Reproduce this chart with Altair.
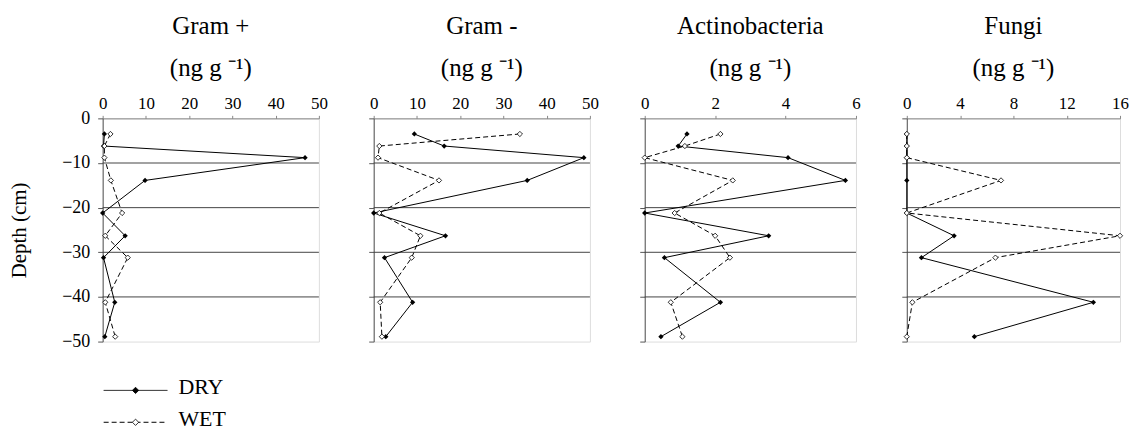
import altair as alt
import pandas as pd

# ---- data ----
depths = [-3.5, -6.2, -8.8, -13.9, -21.2, -26.3, -31.2, -41.2, -48.9]
grid_depths = [-10, -20, -30, -40]
series_names = ["DRY", "WET"]

panel_titles = ["Gram +", "Gram -", "Actinobacteria", "Fungi"]
unit_label = "(ng g \u207b\u00b9)"

gram_pos_dry = [0.4, 0.2, 46.8, 9.8, 0.0, 5.2, 0.2, 2.8, 0.5]
gram_pos_wet = [1.8, 0.4, 0.4, 1.9, 4.5, 0.6, 5.8, 0.6, 2.9]

gram_neg_dry = [9.4, 16.3, 48.6, 35.5, 0.0, 16.6, 2.5, 9.0, 2.8]
gram_neg_wet = [33.8, 1.3, 1.0, 15.1, 1.3, 10.8, 8.8, 1.5, 1.9]

actino_dry = [1.2, 0.95, 4.07, 5.7, 0.0, 3.52, 0.56, 2.15, 0.46]
actino_wet = [2.15, 1.14, 0.0, 2.5, 0.85, 2.0, 2.42, 0.74, 1.07]

fungi_dry = [0.0, 0.0, 0.0, 0.0, 0.0, 3.55, 1.1, 14.0, 5.07]
fungi_wet = [0.0, 0.0, 0.0, 7.07, 0.0, 16.0, 6.65, 0.42, 0.0]

x_max = [50, 50, 6, 16]
x_ticks = [[0, 10, 20, 30, 40, 50], [0, 10, 20, 30, 40, 50], [0, 2, 4, 6], [0, 4, 8, 12, 16]]
y_ticks = [0, -10, -20, -30, -40, -50]

FONT = "Liberation Serif"
PANEL_W = [217, 217, 212, 214]
PH = 224


def make_panel(i, dry_vals, wet_vals):
    df = pd.DataFrame({
        "depth": depths * 2,
        "value": dry_vals + wet_vals,
        "series": ["DRY"] * len(depths) + ["WET"] * len(depths),
        "idx": list(range(len(depths))) * 2,
    })
    first = i == 0
    x = alt.X("value:Q", title=None,
              scale=alt.Scale(domain=[0, x_max[i]], nice=False, zero=True),
              axis=alt.Axis(orient="top", values=x_ticks[i], format="d",
                            labelFont=FONT, labelFontSize=17, labelColor="black",
                            labelPadding=3, tickSize=3, tickColor="#888",
                            domainColor="#888", grid=False, labelFlush=False))
    y = alt.Y("depth:Q",
              title="Depth (cm)" if first else None,
              scale=alt.Scale(domain=[-50, 0], nice=False),
              axis=alt.Axis(orient="left", values=y_ticks, format="d",
                            labels=first, labelFont=FONT, labelFontSize=18,
                            labelColor="black", labelPadding=8,
                            tickSize=5, tickColor="#555", domainColor="#555",
                            grid=False, titleFont=FONT, titleFontSize=21,
                            titleFontWeight="normal", titleColor="black",
                            titlePadding=32))
    base = alt.Chart(df).encode(x=x, y=y, order=alt.Order("idx:Q"))
    grid = alt.Chart(pd.DataFrame({"depth": grid_depths})).mark_rule(
        color="#444", strokeWidth=1).encode(y=y)
    dry_line = base.transform_filter(alt.datum.series == "DRY").mark_line(
        color="black", strokeWidth=1)
    dry_pts = base.transform_filter(alt.datum.series == "DRY").mark_point(
        shape="diamond", filled=True, color="black", size=28, opacity=1)
    wet_line = base.transform_filter(alt.datum.series == "WET").mark_line(
        color="black", strokeWidth=1, strokeDash=[5, 3])
    wet_pts = base.transform_filter(alt.datum.series == "WET").mark_point(
        shape="diamond", filled=True, fill="white", stroke="black",
        strokeWidth=0.8, size=28, opacity=1)
    layers = [grid, dry_line, dry_pts, wet_line, wet_pts]

    if first:
        leg_y = [273, 305]
        for k, name in enumerate(series_names):
            ldf = pd.DataFrame({"label": [name]})
            lc = alt.Chart(ldf)
            rule = lc.mark_rule(color="black", strokeWidth=1,
                                strokeDash=[1, 0] if k == 0 else [5, 3]).encode(
                x=alt.value(1), x2=alt.value(65), y=alt.value(leg_y[k]))
            pt = lc.mark_point(shape="diamond", filled=True, size=40, opacity=1,
                               fill="black" if k == 0 else "white",
                               stroke="black", strokeWidth=0.8).encode(
                x=alt.value(33), y=alt.value(leg_y[k]))
            txt = lc.mark_text(align="left", baseline="middle", font=FONT,
                               fontSize=22, color="black").encode(
                x=alt.value(76), y=alt.value(leg_y[k] - 3), text="label:N")
            layers += [rule, pt, txt]

    return alt.layer(*layers).properties(
        width=PANEL_W[i], height=PH,
        title=alt.TitleParams([panel_titles[i], unit_label], font=FONT,
                              fontSize=25, fontWeight="normal", color="black",
                              lineHeight=42, offset=14, anchor="middle"))


panels = [
    make_panel(0, gram_pos_dry, gram_pos_wet),
    make_panel(1, gram_neg_dry, gram_neg_wet),
    make_panel(2, actino_dry, actino_wet),
    make_panel(3, fungi_dry, fungi_wet),
]

chart = alt.hconcat(*panels, spacing=40).configure_view(
    stroke="#bbb", strokeWidth=1).configure(
    padding={"top": 4, "left": 0, "right": 0, "bottom": 0}, background="white")

chart.save("out.html", embed_options={"renderer": "svg", "actions": False})
